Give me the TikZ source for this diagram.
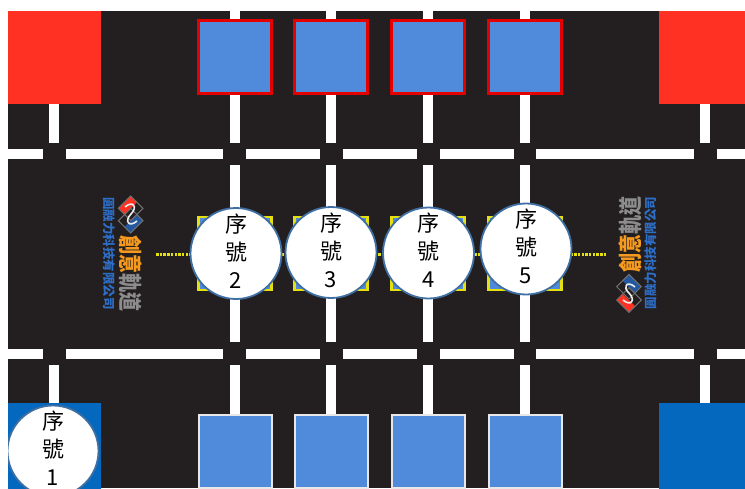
\documentclass[tikz,border=0pt]{standalone}
\usepackage{fontspec}
\setmainfont{Noto Sans CJK TC}
\definecolor{bgk}{HTML}{231F20}
\definecolor{redz}{HTML}{FF3122}
\definecolor{bluez}{HTML}{0468BE}
\definecolor{tile}{HTML}{508ADB}
\definecolor{ring}{HTML}{3F6FA3}
\definecolor{yel}{HTML}{E6E010}
\definecolor{logoor}{HTML}{F59A1E}
\definecolor{logogr}{HTML}{8C8C8C}
\definecolor{logobl}{HTML}{2C6EC8}
\tikzset{
  road/.style={line width=10pt,white,line cap=butt},
  zone/.style={inner sep=0pt,minimum width=93pt,minimum height=93pt,rectangle},
  topbox/.style={draw=red!90!black,line width=2.2pt,fill=tile,minimum size=73pt,inner sep=0pt,rectangle},
  botbox/.style={draw=white!82!gray,line width=2pt,fill=tile,minimum size=73pt,inner sep=0pt,rectangle},
  midbox/.style={draw=yel,line width=2.4pt,fill=tile,minimum size=73pt,inner sep=0pt,rectangle},
  seq/.style={circle,draw=ring,line width=1.8pt,fill=white,minimum size=91pt,inner sep=0pt},
  seqtext/.style={align=center,font=\fontsize{22}{28}\selectfont,text=black,inner sep=0pt,yshift=2.5pt},
  dots/.style={yel,line width=3pt,dash pattern=on 2.5pt off 1.2pt},
  logosmall/.style={text=logobl,font=\bfseries\fontsize{12.5}{12.5}\selectfont,inner sep=0pt},
  logobig/.style={font=\bfseries\fontsize{19}{19}\selectfont,inner sep=0pt},
  logoline/.style={draw=logogr!80!black,line width=1pt},
}
\begin{document}
\begin{tikzpicture}[x=1pt,y=-1pt]
\useasboundingbox (0,0) rectangle (745,488);
\fill[white] (0,0) rectangle (745,488);
\begin{scope}
\clip (8,11) rectangle (745,488);
\fill[bgk] (8,11) rectangle (745,488);
% horizontal roads
\foreach \y in {154,353.5}{
  \foreach \a/\b in {8/43,66/223,246/320,343/417,440/514,536/694,717/745}
    \draw[road] (\a,\y) -- (\b,\y);
}
% vertical roads
\foreach \x in {234.5,331,428,525}{
  \draw[road] (\x,11) -- (\x,143);
  \draw[road] (\x,165) -- (\x,342);
  \draw[road] (\x,365) -- (\x,420);
}
\foreach \x in {54,705}{
  \draw[road] (\x,104) -- (\x,143);
  \draw[road] (\x,365) -- (\x,410);
}
% corner zones
\node[zone,fill=redz] (zoneTL) at (54.5,57.5) {};
\node[zone,fill=redz] (zoneTR) at (705.5,57.5) {};
\node[zone,fill=bluez] (zoneBL) at (54.5,449.5) {};
\node[zone,fill=bluez] (zoneBR) at (705.5,449.5) {};
% boxes
\foreach \n/\x in {a/235,b/331,c/428,d/525}{
  \node[topbox] (top\n) at (\x,57) {};
  \node[botbox] (bot\n) at (\x,451.5) {};
  \node[midbox] (mid\n) at (\x,253.5) {};
}
% dotted links
\coordinate (dl) at (156,254);
\coordinate (dr) at (606,254);
\draw[dots] (dl) -- (dr);
% circles
\node[seq,label={[seqtext]center:序\\號\\1}] (s1) at (53,451) {};
\node[seq,label={[seqtext]center:序\\號\\2}] (s2) at (236,253.5) {};
\node[seq,label={[seqtext]center:序\\號\\3}] (s3) at (331,252.5) {};
\node[seq,label={[seqtext]center:序\\號\\4}] (s4) at (428.5,253) {};
\node[seq,label={[seqtext]center:序\\號\\5}] (s5) at (526,249) {};
% left logo
\node[rotate=-90,logosmall] (ltxtS) at (109.5,253.5) {圓融力科技有限公司};
\node[rotate=-90,logobig] (ltxtA) at (130.5,273.5) {\scalebox{1}[1.25]{\color{logoor}創意\color{logogr}軌道}};
\fill[redz] (130.7,196) -- (118.4,208.3) -- (124.5,214.5) -- (136.8,202.2) -- cycle;
\fill[logobl!80!black] (143,220.7) -- (130.7,233) -- (124.5,226.8) -- (136.8,214.5) -- cycle;
\draw[logoline] (130.7,196) -- (118.4,208.3) -- (130.7,220.6) -- (143,208.3) -- cycle;
\draw[logoline] (130.7,208.4) -- (118.4,220.7) -- (130.7,233) -- (143,220.7) -- cycle;
\draw[white!85!gray,line width=1.6pt] (125,207) .. controls (133,200) and (138,207) .. (131,214) .. controls (124,221) and (129,228) .. (137,221);
% right logo
\node[rotate=90,logosmall] (rtxtS) at (650.5,253) {圓融力科技有限公司};
\node[rotate=90,logobig] (rtxtA) at (630,234) {\scalebox{1}[1.25]{\color{logoor}創意\color{logogr}軌道}};
\fill[logobl!80!black] (629,274.4) -- (641.3,286.7) -- (635,293) -- (622.7,280.7) -- cycle;
\fill[redz] (616.7,300) -- (629,312.3) -- (635,306) -- (622.7,293.7) -- cycle;
\draw[logoline] (629,274.4) -- (641.3,286.7) -- (629,299) -- (616.7,286.7) -- cycle;
\draw[logoline] (629,287.7) -- (641.3,300) -- (629,312.3) -- (616.7,300) -- cycle;
\draw[white!85!gray,line width=1.6pt] (635,287) .. controls (627,280) and (622,287) .. (629,293) .. controls (636,300) and (631,307) .. (623,300);
\end{scope}
\end{tikzpicture}
\end{document}
